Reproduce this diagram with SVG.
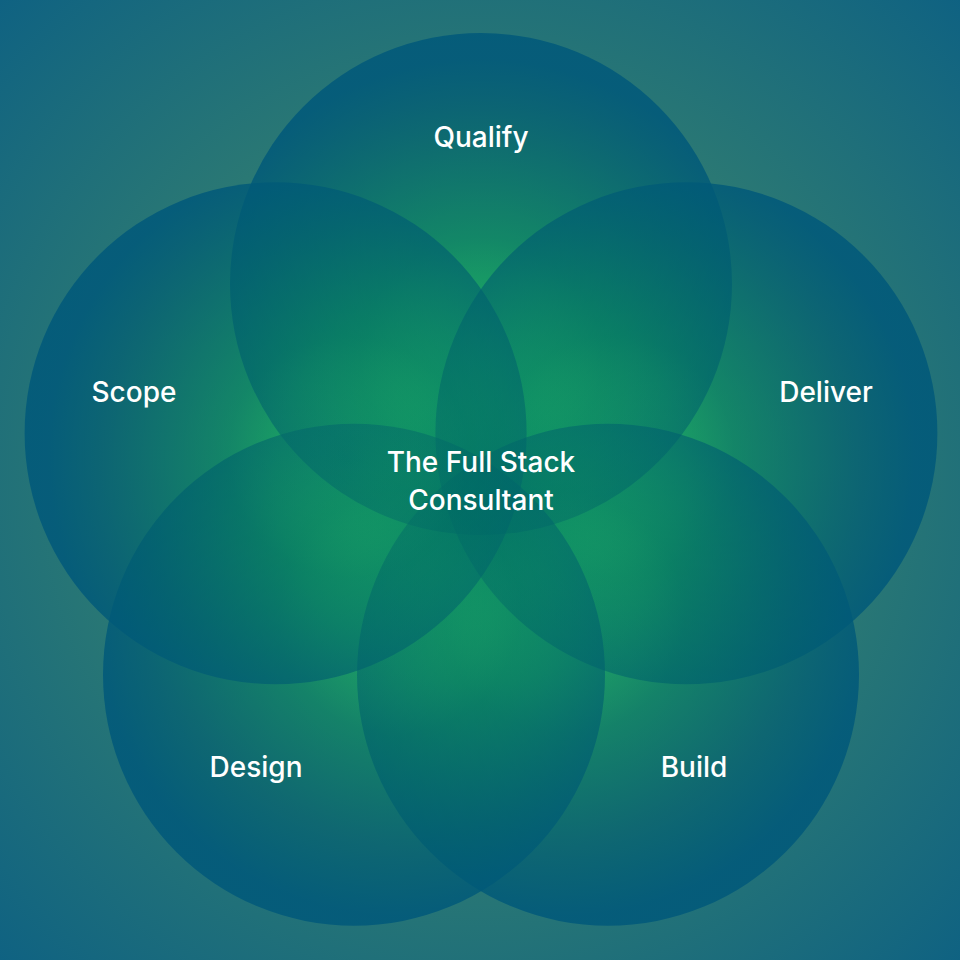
<svg xmlns="http://www.w3.org/2000/svg" width="960" height="960" viewBox="0 0 960 960">
  <defs>
    <radialGradient id="bg" gradientUnits="userSpaceOnUse" cx="480" cy="480" r="680">
      <stop offset="0" stop-color="#18b468"/>
      <stop offset="0.3" stop-color="#1ea466"/>
      <stop offset="0.56" stop-color="#2a7874"/>
      <stop offset="1" stop-color="#0f6282"/>
    </radialGradient>
    <radialGradient id="gQ" cx="0.5" cy="0.65" r="0.6">
      <stop offset="0" stop-color="#1a9a60" stop-opacity="0.05"/>
      <stop offset="0.4" stop-color="#006c64" stop-opacity="0.42"/>
      <stop offset="0.75" stop-color="#005e70" stop-opacity="0.65"/>
      <stop offset="1" stop-color="#00587a" stop-opacity="0.85"/>
    </radialGradient>
    <radialGradient id="gD" href="#gQ" cx="0.357" cy="0.546"/>
    <radialGradient id="gB" href="#gQ" cx="0.413" cy="0.379"/>
    <radialGradient id="gG" href="#gQ" cx="0.587" cy="0.379"/>
    <radialGradient id="gS" href="#gQ" cx="0.643" cy="0.546"/>
    <style>
      .lbl { font-family: Inter, "Liberation Sans", sans-serif; font-weight: 500; font-size: 28px; fill: #ffffff; text-anchor: middle; }
    </style>
  </defs>
  <rect width="960" height="960" fill="url(#bg)"/>
  <g id="qualify">
    <circle cx="481" cy="284" r="251" fill="url(#gQ)"/>
    <text class="lbl" x="481" y="147">Qualify</text>
  </g>
  <g id="deliver">
    <circle cx="686.4" cy="433.3" r="251" fill="url(#gD)"/>
    <text class="lbl" x="826" y="402">Deliver</text>
  </g>
  <g id="build">
    <circle cx="608" cy="674.7" r="251" fill="url(#gB)"/>
    <text class="lbl" x="694" y="777">Build</text>
  </g>
  <g id="design">
    <circle cx="354" cy="674.7" r="251" fill="url(#gG)"/>
    <text class="lbl" x="256" y="777">Design</text>
  </g>
  <g id="scope">
    <circle cx="275.6" cy="433.3" r="251" fill="url(#gS)"/>
    <text class="lbl" x="134" y="402">Scope</text>
  </g>
  <g id="center">
    <text class="lbl" x="481" y="472">The Full Stack</text>
    <text class="lbl" x="481" y="510">Consultant</text>
  </g>
</svg>
